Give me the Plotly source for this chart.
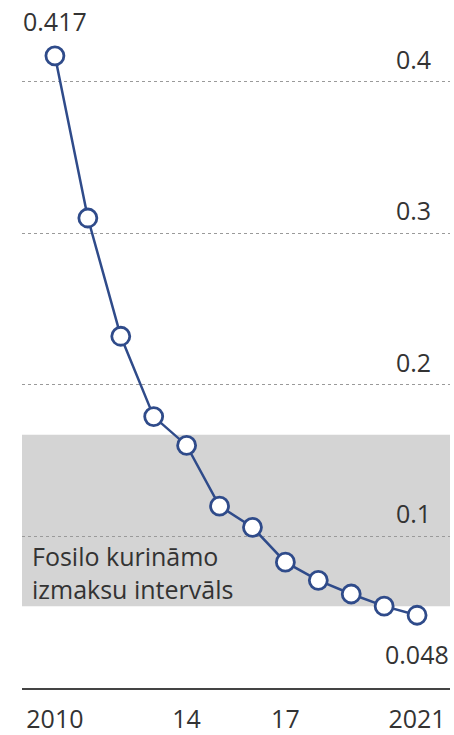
"""Falling cost line with fossil fuel cost band."""

import plotly.graph_objects as go


YEARS = list(range(2010, 2022))
COST = [0.417, 0.310, 0.232, 0.179, 0.160, 0.120, 0.106, 0.083, 0.071, 0.062, 0.054, 0.048]

XTICK_VALS = [2010, 2014, 2017, 2021]
XTICK_TEXT = ["2010", "14", "17", "2021"]

YTICK_VALS = [0.1, 0.2, 0.3, 0.4]
YTICK_TEXT = ["0.1", "0.2", "0.3", "0.4"]

BAND = [0.054, 0.167]
BAND_TEXT = "Fosilo kurināmo<br>izmaksu intervāls"

LINE_COLOR = "#2f4b8a"
TEXT_COLOR = "#333333"
FONT = "Open Sans"
FONT_SIZE = 25


def main():
    """Main driver."""
    fig = go.Figure()
    fig.add_trace(go.Scatter(
        x=YEARS, y=COST, mode="lines+markers",
        line=dict(color=LINE_COLOR, width=2.5),
        marker=dict(size=18, color="white", line=dict(color=LINE_COLOR, width=2.8)),
        hoverinfo="x+y", showlegend=False,
    ))

    fig.add_shape(type="rect", xref="paper", yref="y", x0=0, x1=1,
                  y0=BAND[0], y1=BAND[1], fillcolor="#d4d4d4",
                  line=dict(width=0), layer="below")
    fig.add_annotation(x=0.019, xref="paper", y=0.0765, yref="y",
                       text=BAND_TEXT, showarrow=False, xanchor="left",
                       yanchor="middle", align="left",
                       font=dict(family=FONT, size=FONT_SIZE, color=TEXT_COLOR))

    for val, txt in zip(YTICK_VALS, YTICK_TEXT):
        fig.add_annotation(x=0.96, xref="paper", y=val, yref="y", text=txt,
                           showarrow=False, xanchor="right", yanchor="middle",
                           yshift=23,
                           font=dict(family=FONT, size=FONT_SIZE, color=TEXT_COLOR))

    # first and last values labelled
    fig.add_annotation(x=YEARS[0], y=COST[0], text=f"{COST[0]:.3f}",
                       showarrow=False, yshift=35,
                       font=dict(family=FONT, size=FONT_SIZE, color=TEXT_COLOR))
    fig.add_annotation(x=YEARS[-1], y=COST[-1], text=f"{COST[-1]:.3f}",
                       showarrow=False, yshift=-39,
                       font=dict(family=FONT, size=FONT_SIZE, color=TEXT_COLOR))

    fig.update_layout(
        width=454, height=735,
        margin=dict(l=22, r=4, t=0, b=44),
        plot_bgcolor="white", paper_bgcolor="white",
        font=dict(family=FONT, size=FONT_SIZE, color=TEXT_COLOR),
    )
    fig.update_xaxes(range=[2009, 2022], tickvals=XTICK_VALS, ticktext=XTICK_TEXT,
                     showgrid=False, zeroline=False, showline=True,
                     linecolor="#444444", linewidth=2, ticks="",
                     ticklabelstandoff=8)
    fig.update_yaxes(range=[0, 0.4538], tickvals=YTICK_VALS, showticklabels=False,
                     showgrid=True, gridcolor="#9a9a9a", gridwidth=1, griddash="dot",
                     zeroline=False, showline=False, ticks="")

    # page has a default body margin, drop it so the figure fills the window
    fig.write_html("out.html", config={"displayModeBar": False},
                   post_script="document.body.style.margin='0';")


if __name__ == "__main__":
    main()
